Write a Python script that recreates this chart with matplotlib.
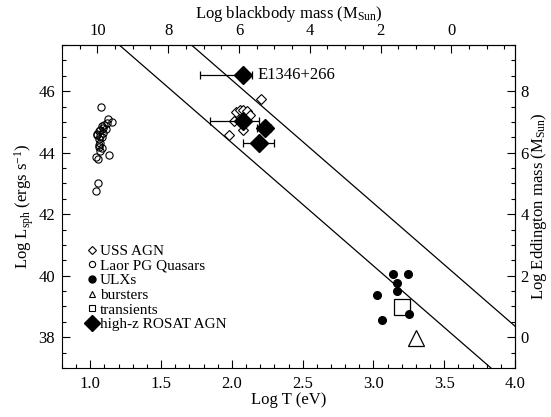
import matplotlib
matplotlib.use("Agg")
import matplotlib.pyplot as plt
from matplotlib.lines import Line2D
from matplotlib.ticker import MultipleLocator

plt.rcParams["font.family"] = ["Liberation Serif", "DejaVu Serif"]
plt.rcParams["mathtext.fontset"] = "custom"
plt.rcParams["mathtext.rm"] = "Liberation Serif"
plt.rcParams["mathtext.it"] = "Liberation Serif:italic"
plt.rcParams["font.size"] = 12

# Laor PG quasars (open circles)
pg_logT = [1.073, 1.126, 1.150, 1.12, 1.10, 1.08, 1.09, 1.11, 1.07, 1.06, 1.09, 1.05,
           1.07, 1.08, 1.06, 1.044, 1.07, 1.06, 1.08, 1.07, 1.06, 1.037, 1.131, 1.054,
           1.054, 1.037]
pg_logL = [45.49, 45.10, 44.99, 44.95, 44.90, 44.88, 44.80, 44.78, 44.75, 44.70, 44.65, 44.60,
           44.55, 44.50, 44.45, 44.56, 44.30, 44.20, 44.15, 44.05, 44.25, 43.85, 43.91, 43.80,
           43.02, 42.77]

# USS AGN (open diamonds)
uss_logT = [2.030, 2.054, 2.082, 2.108, 2.131, 2.018, 2.077, 1.983, 2.206]
uss_logL = [45.32, 45.38, 45.40, 45.35, 45.21, 45.02, 44.75, 44.56, 45.73]

# high-z ROSAT AGN (filled diamonds, x error bars)
hz_logT = [2.077, 2.082, 2.237, 2.194]
hz_logL = [46.51, 45.02, 44.81, 44.32]
hz_err_lo = [0.30, 0.235, 0.061, 0.112]
hz_err_hi = [0.066, 0.112, 0.040, 0.106]

# ULXs (filled circles)
ulx_logT = [3.138, 3.244, 3.164, 3.168, 3.027, 3.251, 3.058]
ulx_logL = [40.06, 40.06, 39.75, 39.49, 39.36, 38.77, 38.57]

burst_logT = [3.298]
burst_logL = [37.96]
trans_logT = [3.199]
trans_logL = [38.99]

# L ~ T^4 lines (end points, clipped by the axes)
lineA_T = [1.0, 4.0]
lineA_L = [48.32, 36.32]
lineB_T = [1.5, 4.0]
lineB_L = [48.36, 38.36]

fig = plt.figure(figsize=(5.51, 4.17), dpi=100)
ax = fig.add_axes([0.1125, 0.1175, 0.8222, 0.7745])

ax.plot(lineA_T, lineA_L, color="black", lw=0.9)
ax.plot(lineB_T, lineB_L, color="black", lw=0.9)

ax.plot(pg_logT, pg_logL, "o", mfc="none", mec="black", ms=5.2, mew=0.8)
ax.plot(uss_logT, uss_logL, "D", mfc="white", mec="black", ms=5.5, mew=0.8)
ax.errorbar(hz_logT, hz_logL, xerr=[hz_err_lo, hz_err_hi], fmt="D", color="black",
            ms=9, capsize=3, elinewidth=0.9, capthick=0.9)
ax.plot(ulx_logT, ulx_logL, "o", color="black", ms=5.5)
ax.plot(trans_logT, trans_logL, "s", mfc="none", mec="black", ms=11, mew=0.9)
ax.plot(burst_logT, burst_logL, "^", mfc="none", mec="black", ms=12, mew=0.9)

ax.text(2.182, 46.51, "E1346+266", va="center", ha="left", fontsize=12)

ax.set_xlim(0.8, 4.0)
ax.set_ylim(37.0, 47.5)
ax.xaxis.set_major_locator(MultipleLocator(0.5))
ax.xaxis.set_minor_locator(MultipleLocator(0.1))
ax.yaxis.set_major_locator(MultipleLocator(2))
ax.yaxis.set_minor_locator(MultipleLocator(0.5))
ax.set_xticks([1.0, 1.5, 2.0, 2.5, 3.0, 3.5, 4.0])
ax.tick_params(which="both", direction="in", top=False, right=False)
ax.tick_params(which="major", length=6, width=0.8)
ax.tick_params(which="minor", length=3, width=0.8)
ax.tick_params(axis="x", pad=6)
ax.tick_params(axis="y", pad=5)
ax.set_xlabel("Log T (eV)", labelpad=0)
ax.set_ylabel(r"Log L$_{\rm sph}$ (ergs s$^{-1}$)", labelpad=2)

top = ax.secondary_xaxis("top", functions=(lambda t: 14.2 - 4 * t, lambda m: (14.2 - m) / 4))
top.set_xticks([10, 8, 6, 4, 2, 0])
top.xaxis.set_minor_locator(MultipleLocator(0.5))
top.tick_params(which="both", direction="in", pad=4)
top.tick_params(which="major", length=6, width=0.8)
top.tick_params(which="minor", length=3, width=0.8)
top.set_xlabel(r"Log blackbody mass (M$_{\rm Sun}$)", labelpad=4)

right = ax.secondary_yaxis("right", functions=(lambda l: l - 38, lambda m: m + 38))
right.set_yticks([0, 2, 4, 6, 8])
right.yaxis.set_minor_locator(MultipleLocator(0.5))
right.tick_params(which="both", direction="in", pad=4)
right.tick_params(which="major", length=6, width=0.8)
right.tick_params(which="minor", length=3, width=0.8)
right.set_ylabel(r"Log Eddington mass (M$_{\rm Sun}$)", labelpad=0)

handles = [
    Line2D([], [], ls="none", marker="D", mfc="white", mec="black", ms=4.5, mew=0.8),
    Line2D([], [], ls="none", marker="o", mfc="none", mec="black", ms=4.5, mew=0.8),
    Line2D([], [], ls="none", marker="o", color="black", ms=5),
    Line2D([], [], ls="none", marker="^", mfc="none", mec="black", ms=5, mew=0.8),
    Line2D([], [], ls="none", marker="s", mfc="none", mec="black", ms=5, mew=0.8),
    Line2D([], [], ls="none", marker="D", color="black", ms=8),
]
labels = ["USS AGN", "Laor PG Quasars", "ULXs", "bursters", "transients", "high-z ROSAT AGN"]
ax.legend(handles, labels, loc="lower left", bbox_to_anchor=(0.056, 0.114), frameon=False,
          fontsize=11, handlelength=0.6, handletextpad=0.2, labelspacing=0.06, borderpad=0,
          borderaxespad=0)

fig.savefig("out.png", dpi=100)
